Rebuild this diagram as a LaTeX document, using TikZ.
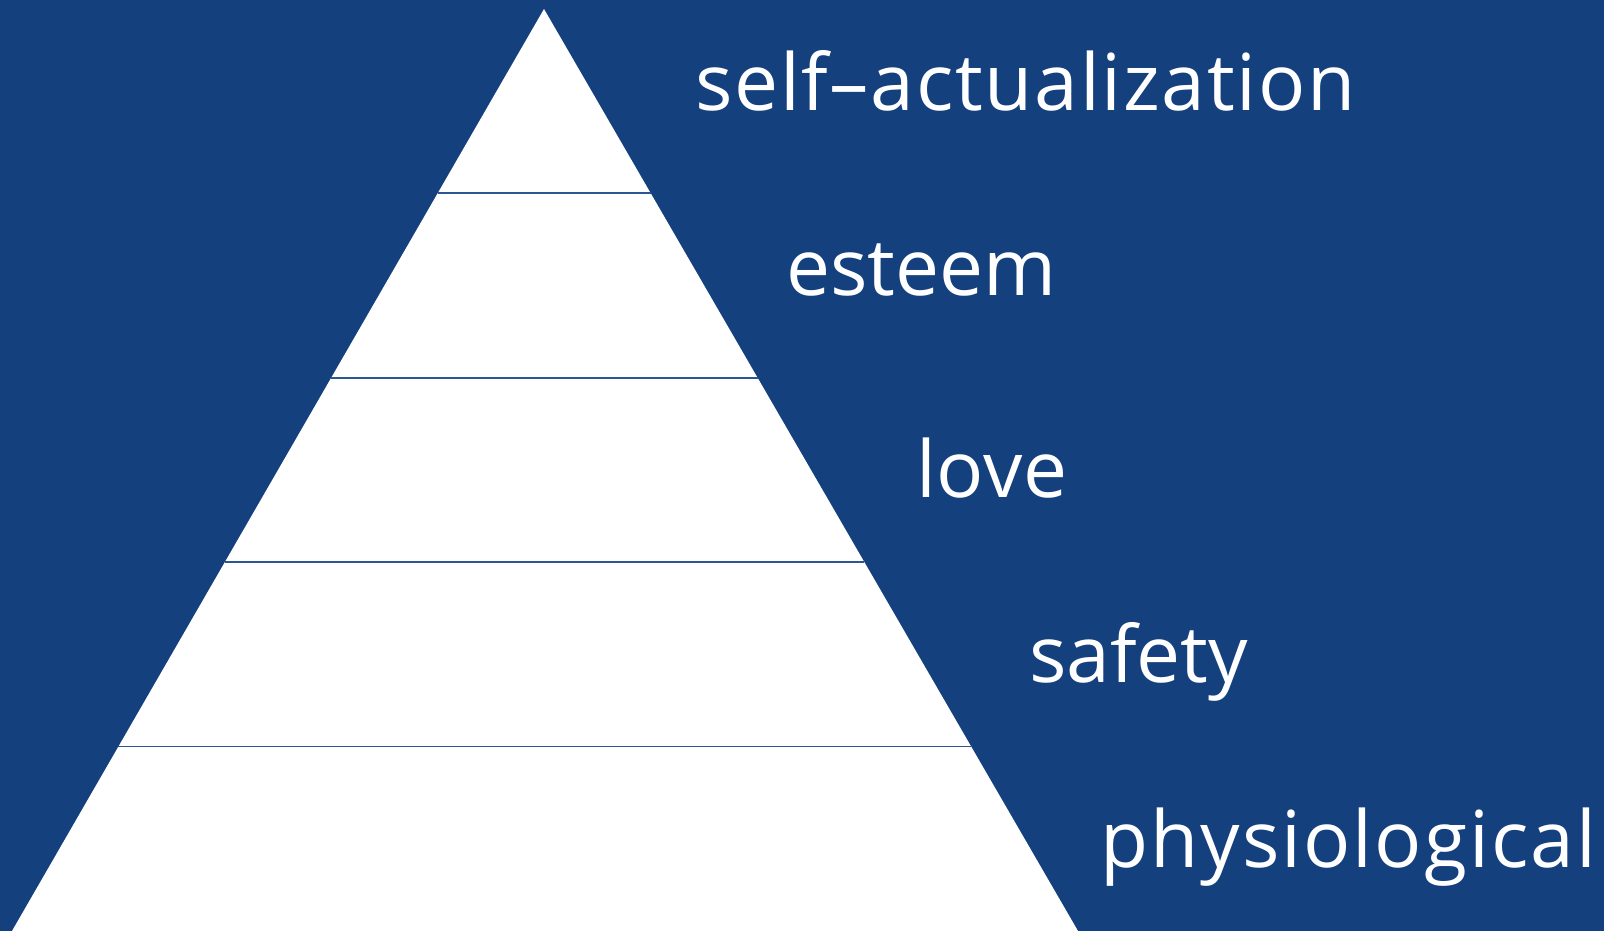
\documentclass[tikz,border=0pt]{standalone}
\usepackage{fontspec}
\setmainfont{Open Sans}
\usetikzlibrary{calc}
\definecolor{bgblue}{RGB}{20,64,126}
\definecolor{lineblue}{RGB}{45,85,145}
\tikzset{
  level/.style={text=white, anchor=base west, inner sep=0pt, font=\fontsize{78.5}{80}\selectfont},
  tier/.style={draw=lineblue, line width=1.8pt}
}
\begin{document}
\begin{tikzpicture}[x=1pt,y=-1pt]
  \fill[bgblue] (0,0) rectangle (1604,931);
  \useasboundingbox (0,0) rectangle (1604,931);
  \coordinate (apex) at (544,9);
  \coordinate (bl) at (12,931);
  \coordinate (br) at (1078,931);
  \fill[white] (apex) -- (bl) -- (br) -- cycle;
  \foreach \k in {1,2,3,4}{
    \draw[tier] ($(apex)!\k/5!(bl)$) coordinate (l\k) -- ($(apex)!\k/5!(br)$) coordinate (r\k);
  }
  \node[level] (n5) at (695,111) {\addfontfeature{LetterSpace=2.2}self–actualization};
  \node[level] (n4) at (786,295) {esteem};
  \node[level] (n3) at (916,497) {\addfontfeature{LetterSpace=0.8}love};
  \node[level] (n2) at (1029,682) {safety};
  \node[level] (n1) at (1100,867) {\addfontfeature{LetterSpace=2.6}physiological};
\end{tikzpicture}
\end{document}
